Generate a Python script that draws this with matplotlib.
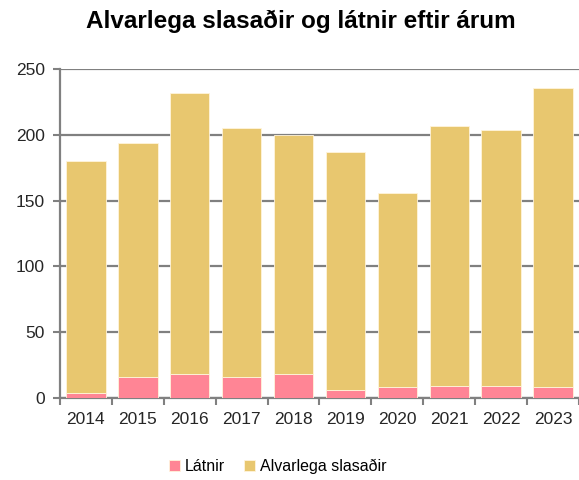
import numpy as np
import matplotlib.pyplot as plt
from matplotlib import font_manager

# Données
ar = ["2014", "2015", "2016", "2017", "2018", "2019", "2020", "2021", "2022", "2023"]
latnir = [4, 16, 18, 16, 18, 6, 8, 9, 9, 8]
slasadir = [176, 178, 214, 189, 182, 181, 148, 198, 195, 228]

# Police étroite si disponible
noms = {f.name for f in font_manager.fontManager.ttflist}
etroite = "Liberation Sans Narrow" in noms
police = "Liberation Sans Narrow" if etroite else "Liberation Sans"
plt.rcParams['font.family'] = [police, 'DejaVu Sans']
taille = 14 if etroite else 12.5

gris = "#808080"
rose = "#FF8595"
jaune = "#E8C76F"

fig = plt.figure(figsize=(5.79, 4.80), dpi=100)
ax = fig.add_axes([0.1036, 0.171, 0.8964, 0.685])

x = np.arange(len(ar))
ax.bar(x, latnir, width=0.76, color=rose, edgecolor="#FFF4DC", linewidth=0.6,
       label="Látnir", zorder=3)
ax.bar(x, slasadir, bottom=latnir, width=0.76, color=jaune, edgecolor="#FFF4DC",
       linewidth=0.6, label="Alvarlega slasaðir", zorder=3)

ax.set_xlim(-0.5, len(ar) - 0.5)
ax.set_ylim(0, 250)
ax.set_yticks([0, 50, 100, 150, 200, 250])
ax.yaxis.grid(True, color=gris, linewidth=1.6, zorder=0)
ax.set_axisbelow(True)

# Graduations x aux limites des catégories
ax.set_xticks(x)
ax.set_xticklabels(ar)
ax.tick_params(axis='x', length=0, labelsize=taille, pad=10, colors="#262626")
ax.set_xticks(np.arange(-0.5, len(ar) + 0.5, 1), minor=True)
ax.tick_params(axis='x', which='minor', length=5, width=1.5, color=gris)
ax.tick_params(axis='y', length=5, width=1.5, color=gris, labelsize=taille,
               pad=6, labelcolor="#262626")

for cote in ["top", "right"]:
    ax.spines[cote].set_visible(False)
for cote in ["left", "bottom"]:
    ax.spines[cote].set_color(gris)
    ax.spines[cote].set_linewidth(1.6)

fig.text(0.52, 0.955, "Alvarlega slasaðir og látnir eftir árum", ha="center",
         va="center", fontsize=17.5, fontweight="bold", color="#000000",
         family=["Liberation Sans", "DejaVu Sans"])

fig.legend(loc="center", bbox_to_anchor=(0.48, 0.028), ncol=2, frameon=False,
           fontsize=12 if etroite else 11.5, handlelength=0.7, handleheight=0.7,
           handletextpad=0.3, columnspacing=1.2)

plt.savefig("out.png", dpi=100)
plt.close()
